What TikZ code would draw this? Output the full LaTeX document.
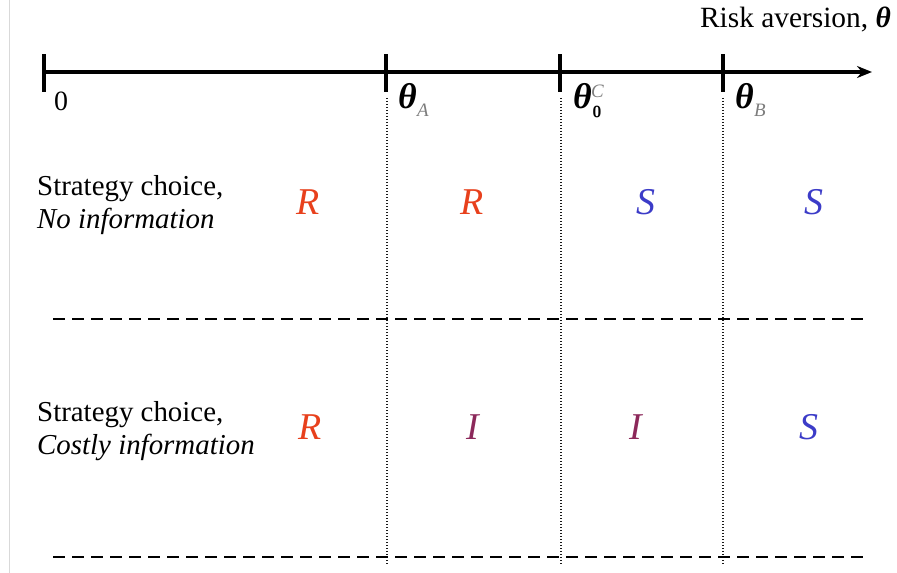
\documentclass[tikz,border=0pt]{standalone}
\usepackage{fontspec}
\setmainfont{Liberation Serif}
\usetikzlibrary{arrows.meta}
\definecolor{rcol}{RGB}{232,64,28}
\definecolor{scol}{RGB}{60,60,200}
\definecolor{icol}{RGB}{140,40,90}
\definecolor{subgray}{RGB}{125,125,125}
\tikzset{
  axisline/.style={line width=3.6pt},
  tickmark/.style={line width=3.4pt},
  divider/.style={line width=2.6pt, dash pattern=on 12bp off 7bp},
  boundary/.style={line width=2.6pt, dash pattern=on 1.4bp off 1.6bp, black!90},
  rowlabel/.style={anchor=west, align=left, font=\fontsize{29}{33}\selectfont, inner sep=0pt},
  choice/.style={font=\fontsize{38}{38}\selectfont\itshape, inner sep=0pt},
  thetalab/.style={anchor=west, font=\fontsize{36}{36}\selectfont\bfseries\itshape, inner sep=0pt},
  subl/.style={anchor=west, inner sep=0pt, text=subgray, font=\fontsize{19}{19}\selectfont\itshape},
}
\begin{document}
\begin{tikzpicture}[x=1bp,y=-1bp]
  \useasboundingbox (0,0) rectangle (897,573);
  \fill[white] (0,0) rectangle (897,573);
  % thin page edge on the left
  \draw[black!15, line width=0.8pt] (9,0) -- (9,573);

  % threshold points on the axis
  \coordinate (o)  at (44,72);
  \coordinate (ta) at (386,72);
  \coordinate (tc) at (560,72);
  \coordinate (tb) at (723,72);
  \coordinate (end) at (872,72);

  % axis
  \draw[axisline, -{Stealth[length=15bp,width=12bp]}] (o) -- (end);
  \foreach \p in {o,ta,tc,tb}
    \draw[tickmark] ([yshift=-20bp]\p) -- ([yshift=18bp]\p);

  \node[anchor=south east, inner sep=0pt, font=\fontsize{29.5}{30}\selectfont] (axlab) at (891,32)
    {Risk aversion, \textbf{\textit{θ}}};

  % axis labels
  \node[anchor=west, inner sep=0pt, font=\fontsize{28}{28}\selectfont] (zero) at (54,101) {0};

  \node[thetalab] (lA) at (398,96) {θ};
  \node[subl] (lAs) at (lA.east |- 0,110) {A};

  \node[thetalab] (lC) at (573,96) {θ};
  \node[anchor=west, inner sep=0pt, font=\fontsize{16}{16}\selectfont\sffamily\bfseries] (lCs) at ([xshift=0.5bp]lC.east |- 0,112) {0};
  \node[subl] (lCu) at ([xshift=-1bp]lC.east |- 0,91) {C};

  \node[thetalab] (lB) at (735,96) {θ};
  \node[subl] (lBs) at (lB.east |- 0,110) {B};

  % vertical boundaries
  \coordinate (va1) at (387,98);  \coordinate (va2) at (387,565);
  \coordinate (vc1) at (561,98);  \coordinate (vc2) at (561,565);
  \coordinate (vb1) at (723,98);  \coordinate (vb2) at (723,565);
  \draw[boundary] (va1) -- (va2);
  \draw[boundary] (vc1) -- (vc2);
  \draw[boundary] (vb1) -- (vb2);

  % row dividers
  \coordinate (d1a) at (53,319);  \coordinate (d1b) at (868,319);
  \coordinate (d2a) at (53,557);  \coordinate (d2b) at (868,557);
  \draw[divider] (d1a) -- (d1b);
  \draw[divider] (d2a) -- (d2b);

  % row 1: no information
  \node[rowlabel] (row1) at (37,205) {Strategy choice,\\\textit{No information}};
  \node[choice, text=rcol] (r11) at (308,202) {R};
  \node[choice, text=rcol] (r12) at (472,202) {R};
  \node[choice, text=scol] (r13) at (646,202) {S};
  \node[choice, text=scol] (r14) at (814,202) {S};

  % row 2: costly information
  \node[rowlabel] (row2) at (37,431) {Strategy choice,\\\textit{Costly information}};
  \node[choice, text=rcol] (r21) at (310,427) {R};
  \node[choice, text=icol] (r22) at (473,427) {I};
  \node[choice, text=icol] (r23) at (636,427) {I};
  \node[choice, text=scol] (r24) at (809,427) {S};
\end{tikzpicture}
\end{document}
